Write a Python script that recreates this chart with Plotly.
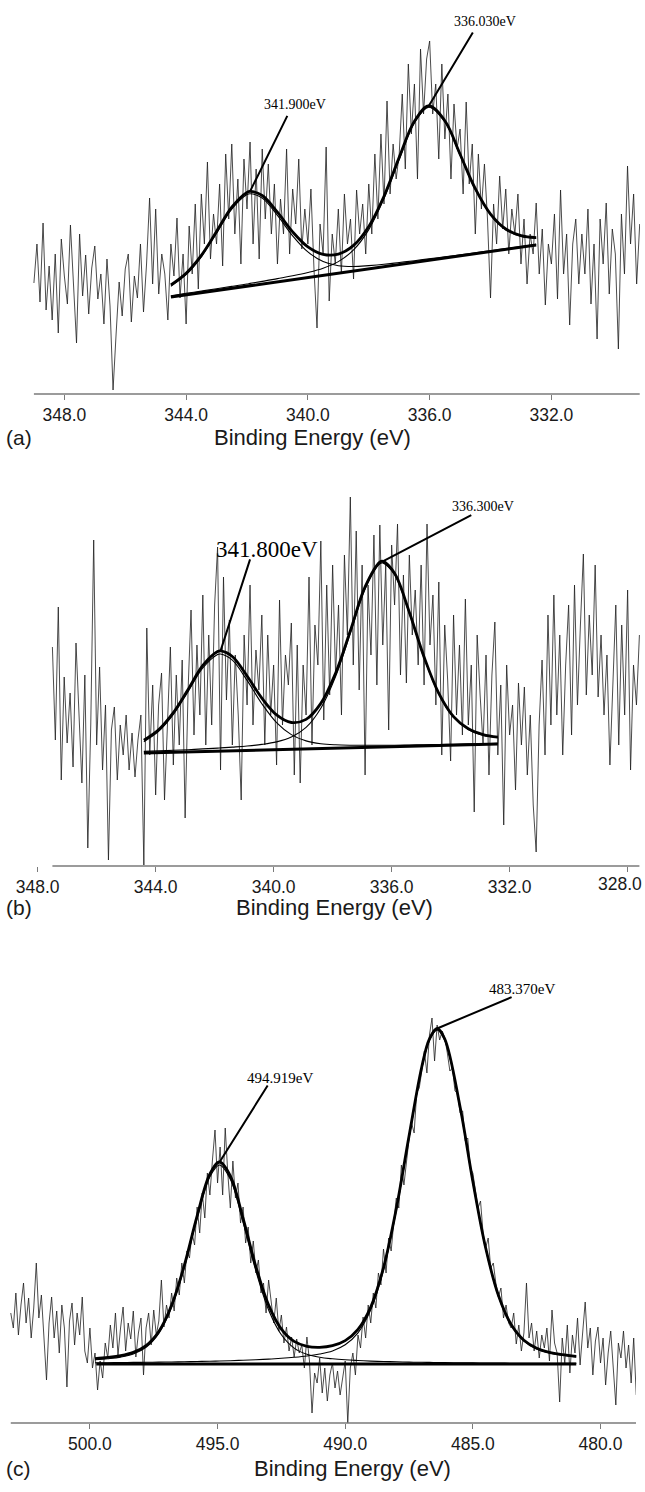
import plotly.graph_objects as go

W, H = 645, 1492

# ---------------- Panel (a) ----------------
energy_a = [round(349.0 - 0.1 * i, 1) for i in range(200)]
counts_a = [
    111, 150, 92, 171, 84, 128, 74, 140, 61, 155,
    118, 90, 169, 105, 51, 160, 98, 139, 80, 126,
    148, 95, 120, 70, 135, 88, 4, 60, 112, 78,
    125, 140, 72, 118, 96, 150, 82, 130, 196, 110,
    185, 100, 140, 120, 74, 150, 118, 176, 96, 140,
    70, 168, 120, 190, 105, 200, 150, 232, 135, 180,
    150, 210, 128, 240, 175, 250, 160, 215, 130, 235,
    185, 252, 150, 225, 135, 245, 175, 230, 160, 210,
    130, 195, 160, 245, 140, 205, 170, 235, 145, 185,
    150, 205, 125, 66, 170, 140, 247, 93, 160, 130,
    185, 120, 200, 150, 175, 115, 204, 160, 190, 140,
    210, 160, 240, 175, 260, 190, 293, 200, 250, 215,
    240, 300, 225, 330, 260, 310, 215, 345, 280, 335,
    353, 280, 310, 235, 330, 255, 300, 215, 290, 245,
    265, 200, 292, 210, 250, 160, 240, 185, 230, 175,
    96, 190, 150, 218, 165, 205, 140, 185, 160, 200,
    130, 175, 110, 160, 140, 191, 120, 165, 89, 150,
    130, 180, 95, 204, 120, 160, 69, 150, 175, 110,
    160, 120, 185, 90, 150, 55, 175, 130, 191, 100,
    165, 140, 45, 180, 120, 228, 150, 200, 110, 170,
]
fit_energy_a = [344.5, 344.0, 343.5, 343.0, 342.5, 342.0, 341.9, 341.5, 341.0, 340.5,
                340.0, 339.5, 339.0, 338.5, 338.0, 337.5, 337.0, 336.5, 336.03, 335.5,
                335.0, 334.5, 334.0, 333.5, 333.0, 332.5]
envelope_a = [109.1, 120.8, 138.7, 162.5, 186.8, 201.6, 202.6, 198.5, 181.8, 162.1,
              147.1, 139.6, 139.9, 148.6, 167.6, 197.8, 236.6, 272.7, 288.1, 273.2,
              239.7, 205.3, 179.9, 165.0, 158.4, 156.4]
peak1_a = [107.8, 119.3, 137.1, 160.7, 184.9, 199.4, 200.3, 195.9, 178.6, 158.2,
           142.1, 132.5, 128.3, 127.5, 128.4, 129.7, 131.5, 133.3, 135.1, 137.2,
           139.2, 141.2, 143.3, 145.4, 147.5, 149.6]
peak2_a = [98.3, 100.7, 102.9, 105.3, 107.6, 110.0, 110.6, 112.6, 115.4, 118.2,
           121.5, 125.8, 132.4, 144.1, 164.4, 195.4, 234.6, 271.1, 286.7, 272.0,
           238.7, 204.4, 179.1, 164.3, 157.7, 155.8]
bg_energy_a = [344.5, 332.5]
bg_a = [97, 149]
peak_energy_a = [341.9, 336.03]
peak_labels_a = ["341.900eV", "336.030eV"]
ticks_a = [348.0, 344.0, 340.0, 336.0, 332.0]

# ---------------- Panel (b) ----------------
energy_b = [round(347.5 - 0.1 * i, 1) for i in range(200)]
counts_b = [
    218, 125, 258, 85, 188, 122, 172, 98, 222, 150,
    82, 190, 17, 140, 325, 120, 198, 95, 160, 5,
    135, 158, 85, 140, 110, 150, 95, 132, 88, 125,
    150, 0, 237, 110, 180, 70, 160, 192, 65, 140,
    218, 100, 190, 120, 205, 47, 175, 255, 130, 220,
    150, 270, 120, 230, 140, 260, 318, 95, 288, 165,
    245, 120, 210, 150, 65, 230, 160, 280, 140, 215,
    175, 250, 120, 230, 150, 200, 100, 265, 140, 210,
    180, 242, 90, 220, 82, 200, 150, 288, 120, 240,
    200, 324, 145, 280, 170, 300, 190, 260, 150, 310,
    230, 368, 200, 334, 175, 300, 90, 280, 210, 330,
    180, 340, 220, 300, 135, 320, 260, 341, 190, 290,
    182, 310, 230, 275, 200, 300, 180, 341, 220, 270,
    160, 283, 110, 240, 185, 104, 250, 150, 220, 130,
    266, 140, 200, 53, 230, 170, 120, 210, 90, 190,
    243, 110, 180, 40, 200, 130, 160, 75, 182, 120,
    178, 90, 150, 60, 13, 140, 205, 110, 250, 140,
    270, 150, 230, 110, 200, 260, 130, 280, 160, 240,
    311, 170, 250, 190, 300, 168, 230, 150, 210, 100,
    180, 260, 120, 240, 150, 275, 95, 200, 160, 230,
]
fit_energy_b = [344.4, 343.9, 343.4, 342.9, 342.4, 341.9, 341.8, 341.4, 340.9, 340.4,
                339.9, 339.4, 338.9, 338.4, 337.9, 337.4, 336.9, 336.4, 336.3, 335.9,
                335.4, 334.9, 334.4, 333.9, 333.4, 332.9, 332.4]
envelope_b = [124.9, 135.3, 152.4, 175.6, 199.6, 213.5, 214.1, 208.5, 189.0, 166.9,
              150.1, 142.5, 145.6, 161.6, 191.8, 234.2, 278.1, 302.9, 303.7, 291.7,
              252.8, 208.0, 171.7, 148.4, 136.2, 130.4, 127.9]
peak1_b = [123.3, 133.6, 150.5, 173.4, 197.0, 210.5, 211.0, 204.9, 184.6, 161.3,
           142.4, 130.4, 124.1, 121.3, 120.2, 119.8, 119.7, 119.7, 119.7, 119.8,
           120.0, 120.2, 120.5, 120.8, 121.1, 121.3, 121.6]
peak2_b = [113.6, 114.1, 114.7, 115.3, 116.1, 116.9, 117.1, 117.9, 119.0, 120.6,
           123.1, 127.9, 137.6, 156.8, 188.5, 231.7, 276.0, 301.2, 302.1, 290.3,
           251.6, 206.9, 170.7, 147.5, 135.4, 129.7, 127.3]
bg_energy_b = [344.4, 332.4]
bg_b = [112, 121]
peak_energy_b = [341.8, 336.3]
peak_labels_b = ["341.800eV", "336.300eV"]
ticks_b = [348.0, 344.0, 340.0, 336.0, 332.0, 328.0]

# ---------------- Panel (c) ----------------
energy_c = [round(503.1 - 0.1 * i, 1) for i in range(246)]
counts_c = [
    110, 95, 130, 88, 118, 140, 100, 125, 85, 115,
    160, 105, 128, 80, 43, 100, 126, 85, 112, 70,
    118, 95, 36, 102, 120, 78, 110, 88, 126, 72,
    60, 95, 55, 70, 33, 62, 45, 80, 65, 98,
    75, 110, 68, 95, 116, 72, 100, 84, 112, 66,
    90, 105, 48, 95, 110, 78, 113, 88, 102, 143,
    96, 118, 105, 130, 112, 145, 128, 160, 140, 172,
    165, 190, 178, 216, 190, 230, 205, 250, 228, 263,
    293, 240, 276, 228, 295, 250, 215, 262, 225, 240,
    200, 216, 180, 196, 160, 182, 150, 163, 130, 140,
    110, 143, 118, 100, 125, 92, 108, 80, 96, 72,
    86, 66, 84, 70, 78, 55, 86, 62, 10, 50,
    40, 65, 30, 55, 22, 48, 60, 35, 52, 28,
    45, 62, 0, 55, 70, 48, 88, 75, 106, 85,
    118, 100, 130, 115, 150, 138, 174, 150, 185, 172,
    200, 225, 215, 258, 238, 262, 284, 300, 290, 330,
    335, 352, 372, 350, 388, 405, 362, 398, 383, 392,
    385, 370, 352, 355, 332, 330, 310, 312, 282, 285,
    255, 250, 230, 215, 222, 190, 175, 185, 155, 160,
    140, 126, 135, 105, 118, 100, 95, 110, 79, 98,
    72, 90, 140, 85, 100, 72, 92, 65, 88, 75,
    95, 62, 113, 80, 70, 21, 85, 60, 98, 50,
    88, 70, 105, 58, 90, 121, 75, 95, 48, 82,
    96, 60, 85, 38, 70, 92, 55, 18, 80, 65,
    92, 55, 78, 40, 85, 28,
]
fit_energy_c = [499.8, 499.3, 498.8, 498.3, 497.8, 497.3, 496.8, 496.3, 495.8, 495.3,
                494.92, 494.5, 494.0, 493.5, 493.0, 492.5, 492.0, 491.5, 491.0, 490.5,
                490.0, 489.5, 489.0, 488.5, 488.0, 487.5, 487.0, 486.7, 486.4, 486.1,
                485.5, 485.0, 484.5, 484.0, 483.5, 483.0, 482.5, 482.0, 481.5, 480.95]
envelope_c = [64.4, 65.6, 67.3, 70.6, 77.4, 91.5, 117.7, 157.9, 207.2, 249.0,
              261.0, 247.0, 204.5, 156.4, 117.9, 93.9, 81.6, 76.7, 75.7, 77.3,
              82.4, 93.6, 116.0, 155.4, 214.3, 287.0, 356.3, 384.2, 394.5, 384.0,
              316.0, 241.5, 175.2, 127.7, 98.5, 82.8, 74.8, 70.6, 68.3, 66.6]
peak1_c = [63.2, 64.3, 65.9, 69.0, 75.7, 89.6, 115.7, 155.7, 204.7, 246.2,
           258.0, 243.7, 200.7, 152.1, 113.0, 88.2, 74.9, 68.7, 65.7, 64.2,
           63.2, 62.5, 61.9, 61.5, 61.2, 60.9, 60.7, 60.6, 60.5, 60.4,
           60.2, 60.1, 60.0, 59.9, 59.8, 59.8, 59.7, 59.6, 59.6, 59.6]
peak2_c = [60.2, 60.3, 60.4, 60.6, 60.7, 60.9, 61.0, 61.2, 61.5, 61.8,
           62.0, 62.3, 62.8, 63.3, 63.9, 64.7, 65.7, 67.0, 69.0, 72.1,
           78.2, 90.1, 113.1, 152.9, 212.1, 285.1, 354.6, 382.6, 393.0, 382.6,
           314.8, 240.4, 174.2, 126.8, 97.7, 82.0, 74.1, 70.0, 67.7, 66.0]
bg_energy_c = [499.75, 480.95]
bg_c = [59, 59]
peak_energy_c = [494.92, 486.4]
peak_labels_c = ["494.919eV", "483.370eV"]
ticks_c = [500.0, 495.0, 490.0, 485.0, 480.0]


# ---------------- helpers ----------------
def px_x(p):
    return p / W


def px_y(p):
    return 1 - p / H


SANS = "Liberation Sans, Arial, sans-serif"
SERIF = "Liberation Serif, Times New Roman, serif"
AXIS_COL = "#7a7a7a"
TICK_FONT = dict(family=SANS, size=17.5, color="#1a1a1a")

fig = go.Figure()

panels = [
    dict(xa="x", ya="y", e=energy_a, c=counts_a, fe=fit_energy_a, env=envelope_a,
         p1=peak1_a, p2=peak2_a, be=bg_energy_a, bg=bg_a),
    dict(xa="x2", ya="y2", e=energy_b, c=counts_b, fe=fit_energy_b, env=envelope_b,
         p1=peak1_b, p2=peak2_b, be=bg_energy_b, bg=bg_b),
    dict(xa="x3", ya="y3", e=energy_c, c=counts_c, fe=fit_energy_c, env=envelope_c,
         p1=peak1_c, p2=peak2_c, be=bg_energy_c, bg=bg_c),
]

for p in panels:
    fig.add_trace(go.Scatter(x=p["e"], y=p["c"], mode="lines", xaxis=p["xa"], yaxis=p["ya"],
                             line=dict(color="#1e1e1e", width=0.8), hoverinfo="skip"))
    for comp in (p["p1"], p["p2"]):
        fig.add_trace(go.Scatter(x=p["fe"], y=comp, mode="lines", xaxis=p["xa"], yaxis=p["ya"],
                                 line=dict(color="black", width=1.1, shape="spline"),
                                 hoverinfo="skip"))
    fig.add_trace(go.Scatter(x=p["be"], y=p["bg"], mode="lines", xaxis=p["xa"], yaxis=p["ya"],
                             line=dict(color="black", width=3), hoverinfo="skip"))
    fig.add_trace(go.Scatter(x=p["fe"], y=p["env"], mode="lines", xaxis=p["xa"], yaxis=p["ya"],
                             line=dict(color="black", width=2.8, shape="spline"),
                             hoverinfo="skip"))

# axis lines spanning the recorded data
shapes = []
for p in panels:
    shapes.append(dict(type="line", xref=p["xa"], yref=p["ya"] + " domain",
                       x0=p["e"][0], x1=p["e"][-1], y0=0, y1=0,
                       line=dict(color=AXIS_COL, width=1.5)))


def xaxis_cfg(dom_px, rng, ticks, anchor, edge_label=False):
    text = ["%.1f" % t for t in ticks]
    if edge_label:
        text[-1] = ""  # drawn as an annotation nudged inside the page
    return dict(domain=[px_x(dom_px[0]), px_x(dom_px[1])], range=rng, anchor=anchor,
                tickmode="array", tickvals=ticks, ticktext=text,
                ticks="outside", ticklen=5, tickwidth=1.2, tickcolor=AXIS_COL,
                tickfont=TICK_FONT, automargin=False,
                showgrid=False, zeroline=False, showline=False)


def yaxis_cfg(top_px, bot_px, rng, anchor):
    return dict(domain=[px_y(bot_px), px_y(top_px)], range=rng, anchor=anchor,
                visible=False, showgrid=False, zeroline=False, automargin=False)


annotations = []


def add_labels(xa, ya, energies, fit_e, env, texts, arrows, shifts, sizes):
    for e, t, (ax, ay), (xs, ys), sz in zip(energies, texts, arrows, shifts, sizes):
        yv = env[fit_e.index(e)]
        annotations.append(dict(x=e, y=yv, xref=xa, yref=ya, text="", showarrow=True,
                                arrowhead=0, arrowwidth=2, arrowcolor="black",
                                ax=ax, ay=ay, standoff=0, startstandoff=0))
        annotations.append(dict(x=e, y=yv, xref=xa, yref=ya, text=t, showarrow=False,
                                xshift=xs, yshift=ys, xanchor="center", yanchor="middle",
                                font=dict(family=SERIF, size=sz, color="black")))


add_labels("x", "y", peak_energy_a, fit_energy_a, envelope_a, peak_labels_a,
           [(38, -77), (45, -75)], [(45, 87), (56, 84)], [14, 14])
add_labels("x2", "y2", peak_energy_b, fit_energy_b, envelope_b, peak_labels_b,
           [(30, -93), (90, -47)], [(46, 101), (100, 55)], [23, 14])
add_labels("x3", "y3", peak_energy_c, fit_energy_c, envelope_c, peak_labels_c,
           [(49, -78), (76, -32)], [(60, 84), (85, 40)], [15, 15])

# last tick label of panel (b), kept inside the page edge
annotations.append(dict(x=ticks_b[-1], y=0, xref="x2", yref="y2 domain",
                        text="%.1f" % ticks_b[-1], showarrow=False,
                        xanchor="center", yanchor="middle", xshift=-8, yshift=-18,
                        font=TICK_FONT))

# axis titles and panel letters
for cx, cy, letter in [(312, 437, "(a)"), (334, 907, "(b)"), (353, 1468, "(c)")]:
    annotations.append(dict(x=px_x(cx), y=px_y(cy), xref="paper", yref="paper",
                            text="Binding Energy (eV)", showarrow=False,
                            xanchor="center", yanchor="middle",
                            font=dict(family=SANS, size=22, color="#1a1a1a")))
    annotations.append(dict(x=px_x(4), y=px_y(cy), xref="paper", yref="paper",
                            text=letter, showarrow=False, xanchor="left", yanchor="middle",
                            font=dict(family=SANS, size=21, color="#1a1a1a")))

fig.update_layout(
    template="none",
    width=W, height=H,
    autosize=False,
    margin=dict(l=0, r=0, t=0, b=0, pad=0),
    paper_bgcolor="white", plot_bgcolor="white",
    showlegend=False,
    xaxis=xaxis_cfg((33, 640), [349.03, 329.09], ticks_a, "y"),
    yaxis=yaxis_cfg(0, 394, [0, 394], "x"),
    xaxis2=xaxis_cfg((35, 640), [348.09, 327.58], ticks_b, "y2", edge_label=True),
    yaxis2=yaxis_cfg(470, 866, [-1, 395], "x2"),
    xaxis3=xaxis_cfg((10, 636), [503.13, 478.61], ticks_c, "y3"),
    yaxis3=yaxis_cfg(960, 1423, [0, 463], "x3"),
    shapes=shapes,
    annotations=annotations,
)

fig.write_html("out.html", config={"displayModeBar": False})
